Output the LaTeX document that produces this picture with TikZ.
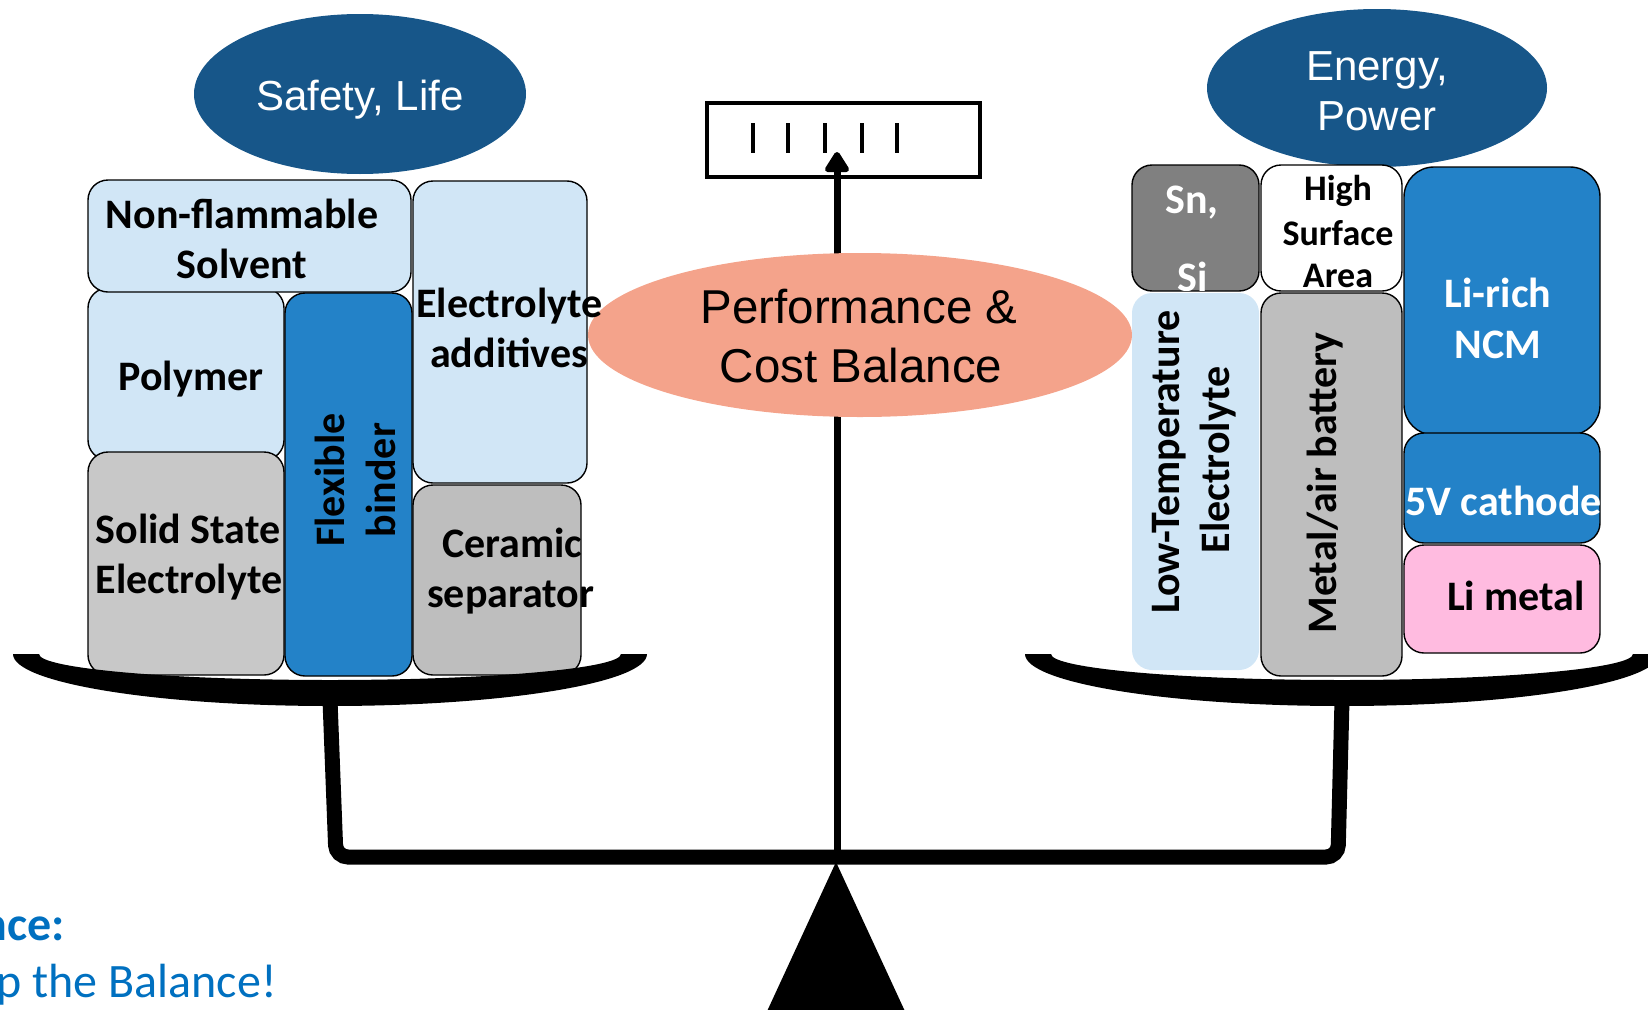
\documentclass[tikz,border=0pt]{standalone}
\usepackage{fontspec}
\newfontfamily\calfont{Carlito}
\newfontfamily\arialfont{Liberation Sans}
\usetikzlibrary{fit,shapes.geometric,arrows.meta}
\definecolor{lblue}{RGB}{209,230,246}
\definecolor{mblue}{RGB}{35,130,200}
\definecolor{dblue}{RGB}{23,86,137}
\definecolor{salmon}{RGB}{244,163,139}
\definecolor{gray1}{RGB}{200,200,200}
\definecolor{gray2}{RGB}{190,190,190}
\definecolor{gray3}{RGB}{128,128,128}
\definecolor{pinkb}{RGB}{255,187,224}
\definecolor{tblue}{RGB}{0,112,192}
\begin{document}
\begin{tikzpicture}[x=1pt,y=-1pt,
  box/.style={draw=black, line width=1.4pt, rounded corners=20pt, inner sep=0pt},
  btxt/.style={font=\calfont\bfseries\fontsize{42}{50}\selectfont, inner sep=0pt, anchor=base},
  stxt/.style={font=\calfont\bfseries\fontsize{36}{43}\selectfont, inner sep=0pt, anchor=base},
  etxt/.style={font=\arialfont\fontsize{42}{50}\selectfont, inner sep=0pt, anchor=base, text=white},
  ptxt/.style={font=\arialfont\fontsize{47.5}{56}\selectfont, inner sep=0pt, anchor=base},
  oval/.style={ellipse, inner sep=0pt},
  beam/.style={line width=15pt, rounded corners=12pt},
  pan/.style={fill=black}
]
\useasboundingbox (0,0) rectangle (1648,1009);

% gauge
\node[draw=black, line width=4.5pt, minimum width=273pt, minimum height=74pt, inner sep=0pt] (gauge) at (843.5,140) {};
\foreach \tx in {753,788,825,862,897}
  \draw[line width=4pt] (\tx,123) -- (\tx,153);

% pivot and needle
\coordinate (pivot) at (837,857);
\coordinate (needle) at (837,152);
\draw[line width=7pt, -{Triangle[width=27pt,length=23pt,round]}] (pivot) -- (needle);

% performance ellipse
\node[oval, fill=salmon, minimum width=544pt, minimum height=164pt] (perf) at (860,335) {};
\node[ptxt] (perf1) at (859,323) {Performance \&};
\node[ptxt] (perf2) at (861,382) {Cost Balance};

% top ellipses
\node[oval, fill=dblue, minimum width=332pt, minimum height=160pt] (safe) at (360,94) {};
\node[etxt] (safe1) at (360,110) {Safety, Life};
\node[oval, fill=dblue, minimum width=340pt, minimum height=158pt] (energy) at (1377,88) {};
\node[etxt] (energy1) at (1377,80) {Energy,};
\node[etxt] (energy2) at (1377,130) {Power};

% left boxes
\node[box, fill=lblue, fit={(88,288)(284,460)}] (poly) {};
\node[box, fill=lblue, fit={(88,180)(411,292)}] (nonf) {};
\node[box, fill=gray1, fit={(88,452)(284,675)}] (solid) {};
\node[box, fill=mblue, fit={(285,293)(412,676)}] (flex) {};
\node[box, fill=lblue, fit={(413,181)(587,483)}] (addi) {};
\node[box, fill=gray2, fit={(413,485)(581,675)}] (cera) {};

\node[btxt] (nonf1) at (242,228) {Non-flammable};
\node[btxt] (nonf2) at (242,278) {Solvent};
\node[btxt] (poly1) at (191,390) {Polymer};
\node[btxt] (solid1) at (188,543) {Solid State};
\node[btxt] (solid2) at (189,593) {Electrolyte};
\node[btxt, rotate=90] (flex1) at (344,480) {Flexible};
\node[btxt, rotate=90] (flex2) at (395,480) {binder};
\node[btxt, anchor=base west] (addi1) at (416,317) {Electrolyte};
\node[btxt, anchor=base west] (addi2) at (430,367) {additives};
\begin{scope}
\clip (413,485) rectangle (581,580);
\node[btxt, anchor=base west] (cera1) at (442,557) {Ceramic};
\end{scope}
\node[btxt, anchor=base west] (cera2) at (427,607) {separator};

% right boxes
\node[box, fill=gray3, fit={(1132,165)(1259,291)}] (snsi) {};
\node[box, fill=white, fit={(1261,165)(1402,291)}] (high) {};
\node[box, fill=mblue, rounded corners=30pt, fit={(1404,167)(1600,435)}] (lirich) {};
\node[box, fill=mblue, fit={(1404,433)(1600,543)}] (fivev) {};
\node[box, fill=pinkb, fit={(1404,545)(1600,653)}] (limetal) {};
\node[box, draw=none, fill=lblue, fit={(1132,293)(1259,670)}] (lowt) {};
\node[box, fill=gray2, fit={(1261,293)(1402,676)}] (metair) {};

\node[btxt, anchor=base west, text=white] (sn1) at (1165,213) {Sn,};
\begin{scope}
\clip (1132,165) rectangle (1259,290);
\node[btxt, anchor=base west, text=white] (sn2) at (1177,291) {Si};
\end{scope}
\node[stxt] (high1) at (1338,200) {High};
\node[stxt] (high2) at (1338,245) {Surface};
\node[stxt] (high3) at (1338,287) {Area};
\node[btxt, text=white] (lirich1) at (1498,307) {Li-rich};
\node[btxt, text=white] (lirich2) at (1498,358) {NCM};
\node[btxt, anchor=base west, text=white] (fivev1) at (1405,515) {5V cathode};
\node[btxt, anchor=base west] (limetal1) at (1447,610) {Li metal};
\node[btxt, rotate=90] (lowt1) at (1179,462) {Low-Temperature};
\node[btxt, rotate=90] (lowt2) at (1229,460) {Electrolyte};
\node[btxt, rotate=90] (metair1) at (1336,483) {Metal/air battery};

% pans
\fill[pan] (13,654) arc[start angle=180, end angle=0, x radius=317, y radius=52]
  -- (621,654) arc[start angle=0, end angle=180, x radius=291, y radius=26] -- cycle;
\fill[pan] (1025,654) arc[start angle=180, end angle=0, x radius=317, y radius=52]
  -- (1633,654) arc[start angle=0, end angle=180, x radius=291, y radius=26] -- cycle;

% beam and posts
\coordinate (lpost) at (330,700);
\coordinate (rpost) at (1342,700);
\draw[beam] (lpost) -- (336,857) -- (1338,857) -- (rpost);

% stand
\fill[black] (pivot) ++(-1,5) -- (763,1020) -- (909,1020) -- cycle;

% bottom text
\node[font=\calfont\bfseries\fontsize{48}{58}\selectfont, text=tblue, inner sep=0pt, anchor=base east] (bl1) at (65,940) {nce:};
\node[font=\calfont\fontsize{48}{58}\selectfont, text=tblue, inner sep=0pt, anchor=base east] (bl2) at (277,997) {p the Balance!};
\end{tikzpicture}
\end{document}
